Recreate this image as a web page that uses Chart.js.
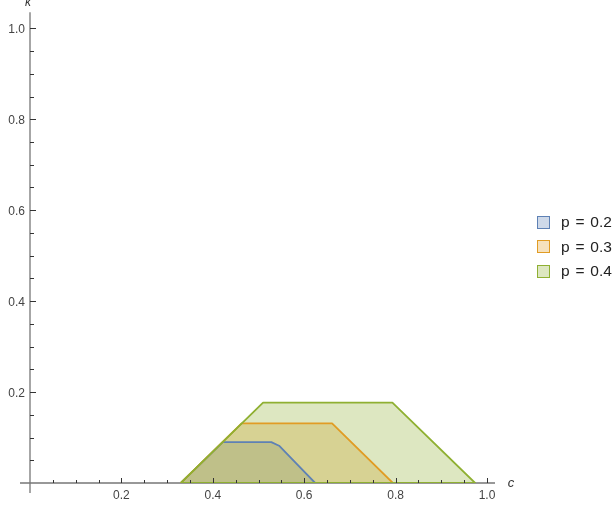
<!DOCTYPE html>
<html>
<head>
<meta charset="utf-8">
<script src="https://cdn.jsdelivr.net/npm/chart.js@4/dist/chart.umd.min.js"></script>
<style>
  body { margin: 0; background: #fff; }
  #wrap { position: relative; width: 615px; height: 509px; }
  #leyenda { position: absolute; left: 537px; top: 210px; font-family: 'Liberation Sans', Arial, sans-serif; font-size: 15.5px; word-spacing: 1.5px; color: #222; white-space: nowrap; }
  .fila { height: 24.5px; display: flex; align-items: center; }
  .caja { width: 13px; height: 13px; margin-right: 11px; box-sizing: border-box; }
</style>
</head>
<body>
<div id="wrap">
  <canvas id="grafico" width="615" height="509"></canvas>
  <div id="leyenda"></div>
</div>
<script>
// datos
var etiquetas = ['p = 0.2', 'p = 0.3', 'p = 0.4'];
var bordes = ['#5E81B5', '#E19C24', '#8FB032'];
var rellenos = ['rgba(94,129,181,0.3)', 'rgba(225,156,36,0.3)', 'rgba(143,176,50,0.3)'];

var c02 = [0.33, 0.422, 0.528, 0.545, 0.624];
var k02 = [0, 0.09, 0.09, 0.082, 0];
var c03 = [0.33, 0.463, 0.661, 0.794];
var k03 = [0, 0.131, 0.131, 0];
var c04 = [0.33, 0.51, 0.793, 0.974];
var k04 = [0, 0.177, 0.177, 0];

var xTicks = [0.2, 0.4, 0.6, 0.8, 1.0];
var yTicks = [0.2, 0.4, 0.6, 0.8, 1.0];

function puntos(cs, ks) {
    var res = [];
    for (var i = 0; i < cs.length; i++) {
        res.push({x: cs[i], y: ks[i]});
    }
    // cerrar el poligono por la base
    res.push({x: cs[0], y: ks[0]});
    return res;
}

var series = [puntos(c02, k02), puntos(c03, k03), puntos(c04, k04)];

var datasets = [];
for (var i = 0; i < series.length; i++) {
    datasets.push({
        label: etiquetas[i],
        data: series[i],
        borderColor: bordes[i],
        backgroundColor: rellenos[i],
        borderWidth: 1.8,
        pointRadius: 0,
        tension: 0,
        fill: 'shape',
        borderJoinStyle: 'round',
        order: series.length - 1 - i   // p=0.4 encima
    });
}

function etiqueta(v, lista) {
    for (var j = 0; j < lista.length; j++) {
        if (Math.abs(v - lista[j]) < 1e-6) return lista[j].toFixed(1);
    }
    return '';
}

// ejes estilo mathematica, ticks hacia dentro
var ejes = {
    id: 'ejes',
    beforeDatasetsDraw: function(chart) {
        var ctx = chart.ctx;
        var xs = chart.scales.x, ys = chart.scales.y;
        var x0 = xs.getPixelForValue(0), y0 = ys.getPixelForValue(0);
        ctx.save();
        ctx.strokeStyle = '#777';
        ctx.lineWidth = 1.3;
        ctx.beginPath();
        ctx.moveTo(x0 - 10, y0);
        ctx.lineTo(chart.chartArea.right, y0);
        ctx.moveTo(x0, y0 + 10);
        ctx.lineTo(x0, chart.chartArea.top);
        ctx.stroke();
        ctx.restore();
    },
    afterDatasetsDraw: function(chart) {
        var ctx = chart.ctx;
        var xs = chart.scales.x, ys = chart.scales.y;
        var x0 = xs.getPixelForValue(0), y0 = ys.getPixelForValue(0);
        ctx.save();
        ctx.strokeStyle = '#333';
        ctx.lineWidth = 1;
        ctx.beginPath();
        xs.ticks.forEach(function(t) {
            if (t.value <= 0) return;
            var px = Math.round(xs.getPixelForValue(t.value)) + 0.5;
            var largo = etiqueta(t.value, xTicks) ? 5 : 3;
            ctx.moveTo(px, y0);
            ctx.lineTo(px, y0 - largo);
        });
        ys.ticks.forEach(function(t) {
            if (t.value <= 0) return;
            var py = Math.round(ys.getPixelForValue(t.value)) + 0.5;
            var largo = etiqueta(t.value, yTicks) ? 6 : 4;
            ctx.moveTo(x0, py);
            ctx.lineTo(x0 + largo, py);
        });
        ctx.stroke();

        ctx.fillStyle = '#333';
        ctx.font = 'italic 12px "Liberation Sans", Arial, sans-serif';
        ctx.textAlign = 'center';
        ctx.textBaseline = 'middle';
        ctx.fillText('κ', x0 - 2, 3);
        ctx.font = 'italic 13px "Liberation Sans", Arial, sans-serif';
        ctx.fillText('c', 511, y0);
        ctx.restore();
    }
};

var chart = new Chart(document.getElementById('grafico').getContext('2d'), {
    type: 'line',
    data: { datasets: datasets },
    plugins: [ejes],
    options: {
        responsive: false,
        animation: false,
        devicePixelRatio: 1,
        layout: { padding: { top: 9, right: 120, left: 0, bottom: 0 } },
        plugins: {
            legend: { display: false },
            tooltip: { enabled: false },
            filler: { drawTime: 'beforeDatasetsDraw' }
        },
        scales: {
            x: {
                type: 'linear',
                min: 0,
                max: 1.0175,
                grid: { display: false, drawTicks: false },
                border: { display: false },
                afterFit: function(s) { s.height = 26; },
                ticks: {
                    stepSize: 0.05,
                    includeBounds: false,
                    autoSkip: false,
                    maxRotation: 0,
                    padding: 5,
                    color: '#444',
                    font: { family: 'Liberation Sans', size: 12 },
                    callback: function(v) { return etiqueta(v, xTicks); }
                }
            },
            y: {
                type: 'linear',
                min: 0,
                max: 1.0355,
                grid: { display: false, drawTicks: false },
                border: { display: false },
                afterFit: function(s) { s.width = 30; },
                ticks: {
                    stepSize: 0.05,
                    includeBounds: false,
                    autoSkip: false,
                    padding: 5,
                    labelOffset: 1.5,
                    color: '#444',
                    font: { family: 'Liberation Sans', size: 12 },
                    callback: function(v) { return etiqueta(v, yTicks); }
                }
            }
        }
    }
});

// leyenda en html
var ley = document.getElementById('leyenda');
for (var i = 0; i < etiquetas.length; i++) {
    var fila = document.createElement('div');
    fila.className = 'fila';
    var caja = document.createElement('span');
    caja.className = 'caja';
    caja.style.border = '1.5px solid ' + bordes[i];
    caja.style.background = rellenos[i];
    var txt = document.createElement('span');
    txt.textContent = etiquetas[i];
    fila.appendChild(caja);
    fila.appendChild(txt);
    ley.appendChild(fila);
}
</script>
</body>
</html>
